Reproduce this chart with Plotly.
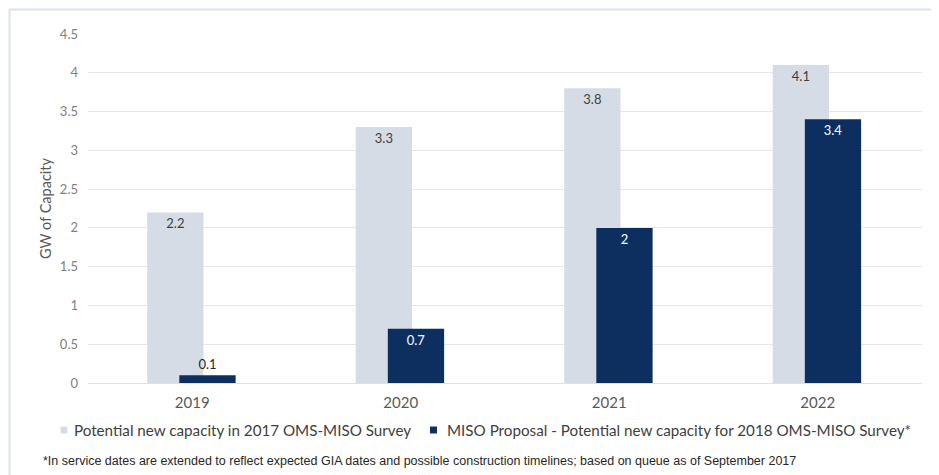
import plotly.graph_objects as go

years = ["2019", "2020", "2021", "2022"]
survey_2017 = [2.2, 3.3, 3.8, 4.1]
miso_proposal = [0.1, 0.7, 2, 3.4]
y_ticks = [0, 0.5, 1, 1.5, 2, 2.5, 3, 3.5, 4, 4.5]
y_tick_text = ["0", "0.5", "1", "1.5", "2", "2.5", "3", "3.5", "4", "4.5"]
name_2017 = "Potential new capacity in 2017 OMS-MISO Survey"
name_prop = "MISO Proposal - Potential new capacity for 2018 OMS-MISO Survey*"
footnote = ("*In service dates are extended to reflect expected GIA dates and possible "
            "construction timelines; based on queue as of September 2017")

LIGHT = "#d6dce6"
DARK = "#0c2f5f"
OFF = 8  # page body margin offset
W, H = 939 - OFF, 475 - OFF
ML, MR, MT, MB = 88 - OFF, 17, 34 - OFF, 92
pw = W - ML - MR
ph = H - MT - MB


def px_x(x):
    # x given in screenshot pixels
    return (x - OFF - ML) / pw


def px_y(y):
    return (H - MB - (y - OFF)) / ph


fig = go.Figure()
fig.add_trace(go.Bar(
    x=years, y=survey_2017, name=name_2017,
    marker=dict(color=LIGHT, line=dict(width=0)),
    width=0.27, offset=-0.216,
    text=[str(v) for v in survey_2017], textposition="inside",
    insidetextanchor="end",
    textfont=dict(family="Lato, Arial", size=13, color="#404040"),
    hoverinfo="skip", showlegend=False,
))
fig.add_trace(go.Bar(
    x=years, y=miso_proposal, name=name_prop,
    marker=dict(color=DARK, line=dict(width=0)),
    width=0.27, offset=-0.062,
    text=[str(v) for v in miso_proposal],
    textposition=["outside" if v < 0.3 else "inside" for v in miso_proposal],
    insidetextanchor="end",
    insidetextfont=dict(family="Lato, Arial", size=13, color="white"),
    outsidetextfont=dict(family="Lato, Arial", size=13, color="#262626"),
    cliponaxis=False,
    hoverinfo="skip", showlegend=False,
))

legend_items = [
    (name_2017, LIGHT, 64, 72),
    (name_prop, DARK, 433.5, 445),
]
LEG_Y = 430
shapes = [dict(
    type="rect", xref="paper", yref="paper",
    x0=px_x(9.5), x1=1.2,
    y0=-0.5, y1=px_y(9.5),
    line=dict(color="#dce3ee", width=2),
    layer="below",
)]
annotations = []
for label, color, sq_cx, tx in legend_items:
    shapes.append(dict(
        type="rect", xref="paper", yref="paper",
        x0=px_x(sq_cx - 3.5), x1=px_x(sq_cx + 3.5),
        y0=px_y(LEG_Y + 3.5), y1=px_y(LEG_Y - 3.5),
        fillcolor=color, line=dict(width=0),
    ))
    annotations.append(dict(
        text=label, xref="paper", yref="paper",
        x=px_x(tx), y=px_y(LEG_Y), xanchor="left", yanchor="middle",
        showarrow=False,
        font=dict(family="Lato, Arial", size=15.2, color="#404040"),
    ))

annotations.append(dict(
    text=footnote, xref="paper", yref="paper",
    x=px_x(41), y=px_y(461),
    xanchor="left", yanchor="middle", showarrow=False,
    font=dict(family="Liberation Sans Narrow, Arial Narrow, Liberation Sans, Arial",
              size=12.5, color="#262626"),
))

fig.update_layout(
    width=W, height=H,
    margin=dict(l=ML, r=MR, t=MT, b=MB, autoexpand=False),
    barmode="overlay",
    plot_bgcolor="white", paper_bgcolor="white",
    font=dict(family="Lato, Arial", color="#595959"),
    showlegend=False,
    xaxis=dict(
        type="category", range=[-0.5, 3.5], automargin=False,
        showgrid=False, showline=False, zeroline=False,
        tickfont=dict(family="Lato, Arial", size=15, color="#595959"),
        ticks="", ticklen=0, ticklabelstandoff=9,
    ),
    yaxis=dict(
        range=[0, 4.5], tickvals=y_ticks, ticktext=y_tick_text,
        automargin=False,
        showgrid=True, gridcolor="#e6e6e6", gridwidth=1,
        zeroline=True, zerolinecolor="#e0e0e0", zerolinewidth=1,
        showline=False, ticks="", ticklen=0, ticklabelstandoff=9,
        tickfont=dict(family="Lato, Arial", size=13, color="#7f7f7f"),
        title=dict(text="GW of Capacity",
                   font=dict(family="Lato, Arial", size=14.5, color="#595959"),
                   standoff=4),
    ),
    annotations=annotations,
    shapes=shapes,
)

fig.write_html("out.html")
